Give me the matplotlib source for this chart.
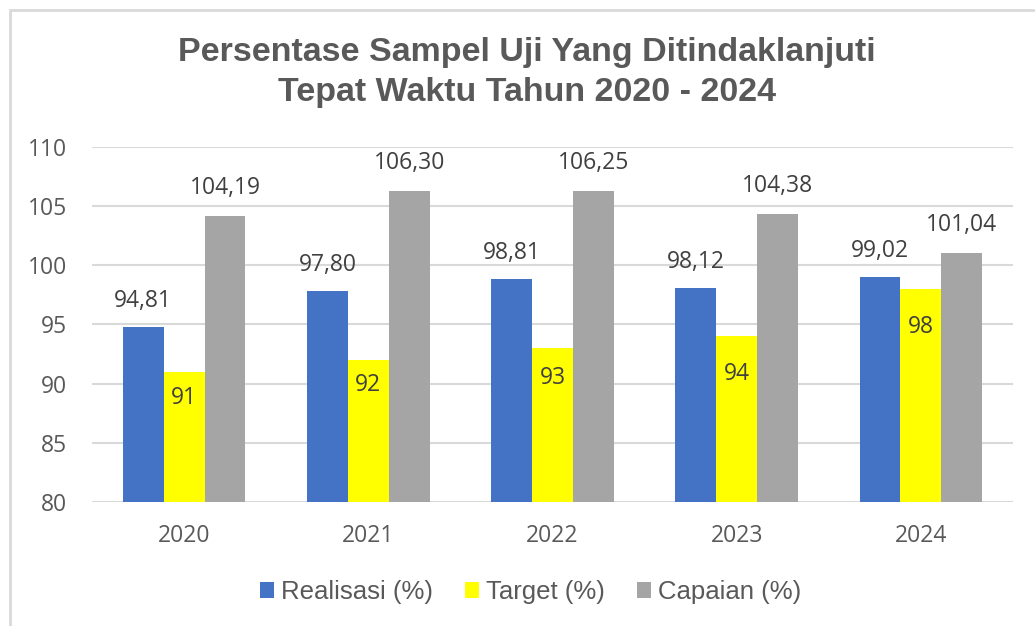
import numpy as np
import matplotlib.pyplot as plt
from matplotlib.patches import Rectangle

# Data
tahun = ['2020', '2021', '2022', '2023', '2024']
realisasi = [94.81, 97.80, 98.81, 98.12, 99.02]
target = [91, 92, 93, 94, 98]
capaian = [104.19, 106.30, 106.25, 104.38, 101.04]

W, H = 1035, 626
fig = plt.figure(figsize=(W / 100, H / 100), dpi=100)
ax = fig.add_axes([92 / W, 1 - 502 / H, (1013 - 92) / W, (502 - 147) / H])

x = np.arange(len(tahun))
bw = 0.222
c_blue, c_yel, c_gray = '#4472C4', '#FFFF00', '#A5A5A5'

b1 = ax.bar(x - bw, [v - 80 for v in realisasi], bw, bottom=80, color=c_blue, label='Realisasi (%)', zorder=3)
b2 = ax.bar(x, [v - 80 for v in target], bw, bottom=80, color=c_yel, label='Target (%)', zorder=3)
b3 = ax.bar(x + bw, [v - 80 for v in capaian], bw, bottom=80, color=c_gray, label='Capaian (%)', zorder=3)

ax.set_xlim(-0.5, len(tahun) - 0.5)
ax.set_ylim(80, 110)
ax.set_yticks(range(80, 111, 5))
ax.set_xticks(x)
ax.set_xticklabels(tahun)
ax.grid(axis='y', color='#D9D9D9', lw=1.5, zorder=0)
for s in ax.spines.values():
    s.set_visible(False)
ax.tick_params(length=0, labelsize=16.5, labelcolor='#595959')
ax.tick_params(axis='x', pad=16)
ax.tick_params(axis='y', pad=18)
for t in ax.get_xticklabels() + ax.get_yticklabels():
    t.set_family('Open Sans')

def fmt(v):
    return f'{v:.2f}'.replace('.', ',')

lbl = dict(textcoords='offset points', ha='center', va='center',
           fontsize=16.5, color='#404040', family='Open Sans')

# labels above realisasi / capaian, inside target (offsets in px)
off_t = [-26, -25, -30, -38, -38]
for i in range(len(tahun)):
    ax.annotate(fmt(realisasi[i]), (x[i] - bw, realisasi[i]), xytext=(0, 26 * 0.72), **lbl)
    ax.annotate(fmt(capaian[i]), (x[i] + bw, capaian[i]), xytext=(0, 28 * 0.72), **lbl)
    ax.annotate(str(target[i]), (x[i], target[i]), xytext=(0, off_t[i] * 0.72), **lbl)

fig.text(527 / W, 1 - 52 / H, 'Persentase Sampel Uji Yang Ditindaklanjuti', ha='center', va='center',
         fontsize=24.5, fontweight='bold', color='#595959', family='Liberation Sans')
fig.text(527 / W, 1 - 93 / H, 'Tepat Waktu Tahun 2020 - 2024', ha='center', va='center',
         fontsize=24.5, fontweight='bold', color='#595959', family='Liberation Sans')

leg = fig.legend(handles=[b1, b2, b3], loc='center', bbox_to_anchor=(530.5 / W, 1 - 592 / H), ncol=3,
                 frameon=False, prop={'family': 'Liberation Sans', 'size': 18.5},
                 handlelength=0.55, handleheight=0.55, handletextpad=0.27, columnspacing=1.25)
for t in leg.get_texts():
    t.set_color('#595959')

# chart border
fig.patches.append(Rectangle((10 / W, -0.1), 1.2, 1 - 10 / H + 0.1, transform=fig.transFigure,
                             fill=False, edgecolor='#D9D9D9', lw=2))

fig.savefig('out.png', dpi=100, facecolor='white')
